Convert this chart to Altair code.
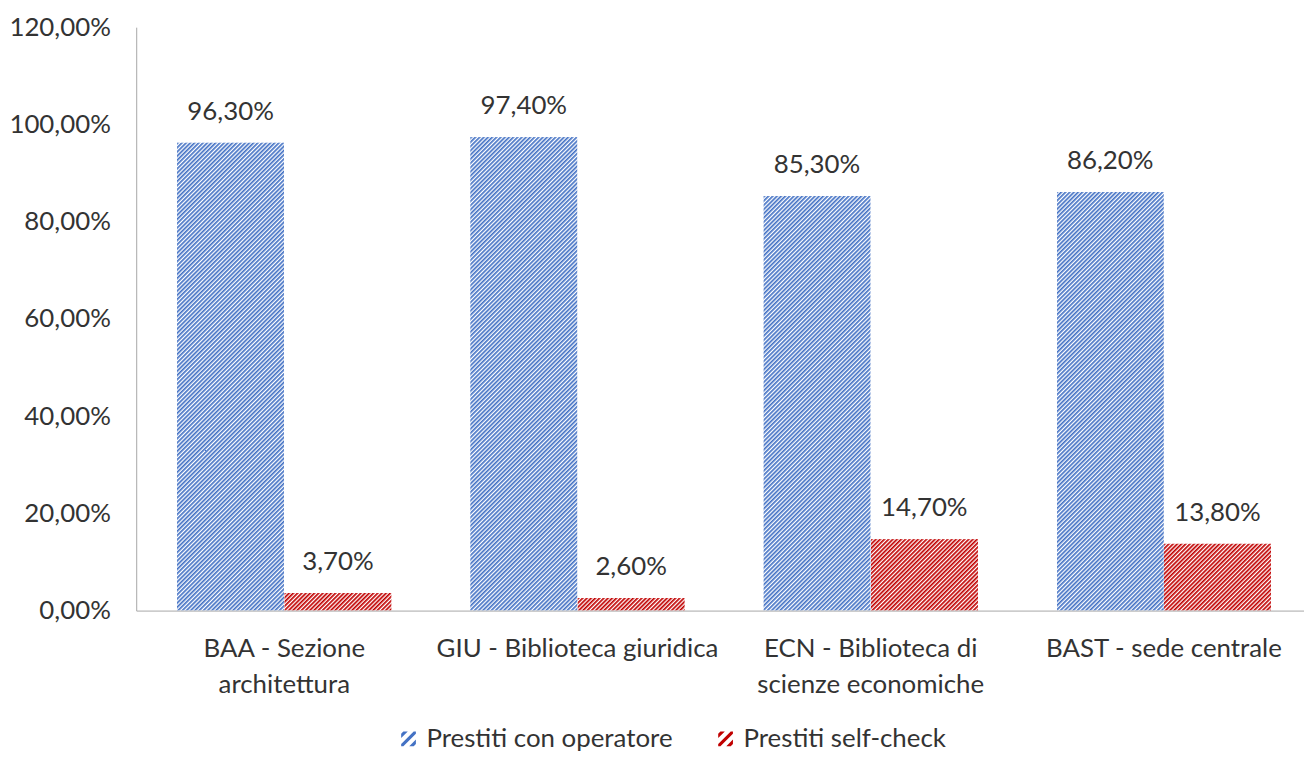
import base64
import altair as alt
import pandas as pd

# ---- data ----
categories = [
    "BAA - Sezione\narchitettura",
    "GIU - Biblioteca giuridica",
    "ECN - Biblioteca di\nscienze economiche",
    "BAST - sede centrale",
]
series = ["Prestiti con operatore", "Prestiti self-check"]
operatore = [96.3, 97.4, 85.3, 86.2]
selfcheck = [3.7, 2.6, 14.7, 13.8]
y_ticks = [0, 20, 40, 60, 80, 100, 120]

colors = ["#4472C4", "#C00000"]
FONT = "Lato"
FS = 26
TEXT_COLOR = "#333333"
AXIS_COLOR = "#A6A6A6"

rows = []
for c, a, b in zip(categories, operatore, selfcheck):
    rows.append({"cat": c, "series": series[0], "value": a})
    rows.append({"cat": c, "series": series[1], "value": b})
df = pd.DataFrame(rows)


def hatch_url(color):
    svg = (
        "<svg xmlns='http://www.w3.org/2000/svg' width='100%' height='100%'>"
        "<defs><pattern id='h' width='3' height='3' patternUnits='userSpaceOnUse' "
        "patternTransform='rotate(45)'>"
        f"<rect x='0' y='0' width='1.7' height='3' fill='{color}'/></pattern></defs>"
        "<rect width='100%' height='100%' fill='url(#h)'/></svg>"
    )
    return "data:image/svg+xml;base64," + base64.b64encode(svg.encode()).decode()


HATCH_SYMBOL = (
    "M-1,0.7L0.7,-1L1,-1L1,-0.7L-0.7,1L-1,1Z "
    "M0.1,1L1,0.1L1,0.7L0.7,1Z "
    "M-1,-0.1L-0.1,-1L-0.7,-1L-1,-0.7Z"
)

base = alt.Chart(df).transform_calculate(
    label="replace(format(datum.value, '.2f'), '.', ',') + '%'"
).encode(
    x=alt.X(
        "cat:N",
        sort=categories,
        scale=alt.Scale(paddingInner=0.268, paddingOuter=0.139, range=[0, 1183]),
        axis=alt.Axis(
            title=None,
            labelAngle=0,
            ticks=False,
            domainColor=AXIS_COLOR,
            labelExpr="split(datum.value, '\\n')",
            labelFont=FONT,
            labelFontSize=FS,
            labelColor=TEXT_COLOR,
            labelPadding=25,
            labelLineHeight=36,
            labelBaseline="top",
            labelLimit=0,
            labelOverlap=False,
        ),
    ),
    xOffset=alt.XOffset(
        "series:N",
        sort=series,
        scale=alt.Scale(domain=series, paddingInner=0, paddingOuter=0),
    ),
    y=alt.Y(
        "value:Q",
        stack=None,
        scale=alt.Scale(domain=[0, 120], nice=False, zero=True),
        axis=alt.Axis(
            title=None,
            values=y_ticks,
            grid=False,
            ticks=False,
            domainColor=AXIS_COLOR,
            labelExpr="replace(format(datum.value, '.2f'), '.', ',') + '%'",
            labelFont=FONT,
            labelFontSize=FS,
            labelColor=TEXT_COLOR,
            labelPadding=26,
            labelLimit=0,
        ),
    ),
)

color_enc = alt.Color(
    "series:N",
    scale=alt.Scale(domain=series, range=colors),
    legend=alt.Legend(
        title=None,
        orient="none",
        legendX=261,
        legendY=703,
        direction="horizontal",
        symbolType=HATCH_SYMBOL,
        symbolSize=220,
        symbolStrokeWidth=0,
        labelFont=FONT,
        labelFontSize=FS,
        labelColor=TEXT_COLOR,
        labelOffset=5,
        columnPadding=40,
        padding=0,
        labelLimit=0,
    ),
)

layers = []
for s, col in zip(series, colors):
    layers.append(
        base.transform_filter(alt.datum.series == s)
        .mark_image(aspect=False)
        .encode(url=alt.value(hatch_url(col)), color=color_enc)
    )

labels = base.mark_text(
    baseline="bottom", dy=-18, font=FONT, fontSize=FS, color=TEXT_COLOR
).encode(text="label:N")

chart = (
    alt.layer(*layers, labels)
    .properties(
        width=1175,
        height=587,
        autosize=alt.AutoSizeParams(type="none"),
        padding={"left": 129, "top": 17, "right": 0, "bottom": 142},
        background="white",
    )
    .configure_view(stroke=None)
)

chart.save("out.html", embed_options={"renderer": "svg", "actions": False})
